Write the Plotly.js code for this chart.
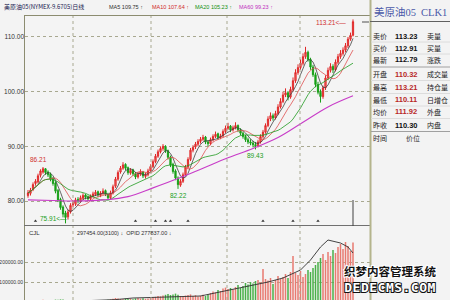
<!DOCTYPE html>
<html><head><meta charset="utf-8">
<script src="https://cdn.plot.ly/plotly-3.0.1.min.js"></script>
<style>html,body{margin:0;padding:0;background:#f3f3f3;}#chart{width:450px;height:300px;}</style>
</head><body><div id="chart"></div>
<script>
// ---- data ----
const openP = [81.0,81.4,82.1,83.2,83.5,84.7,85.3,85.9,85.3,84.9,
84.1,83.3,81.9,80.3,78.9,77.8,77.1,78.0,79.3,79.5,
80.3,80.0,80.5,81.1,80.8,80.4,80.9,81.2,81.7,81.0,
81.4,81.9,81.2,80.6,81.5,82.7,84.0,85.3,86.0,86.7,
86.1,85.1,85.7,85.0,84.4,84.9,85.3,84.5,84.8,85.5,
86.3,87.2,88.2,89.0,89.6,90.0,89.2,88.0,86.7,85.5,
84.2,82.9,83.6,84.8,86.2,87.6,89.3,89.9,90.4,90.9,
91.3,91.7,90.8,90.5,91.2,91.8,92.3,91.6,91.9,92.7,
93.3,93.7,93.0,93.4,93.8,93.0,92.4,91.8,91.2,90.8,
90.6,90.3,90.1,90.8,91.8,92.6,93.8,95.0,95.6,95.2,
96.0,97.2,98.2,99.4,99.8,99.0,100.4,102.0,103.5,104.4,
105.2,106.4,107.2,105.9,104.5,103.1,101.3,99.9,99.1,100.7,
102.5,103.9,104.6,104.0,105.4,106.4,107.0,107.6,108.4,109.6,
110.32];
const highP = [82.0,82.4,83.4,84.0,85.0,85.8,86.21,86.0,85.6,85.2,
84.4,83.6,82.2,80.6,79.2,78.2,78.4,79.6,80.1,80.6,
80.7,81.0,81.4,81.3,81.0,81.2,81.7,82.0,81.9,81.8,
82.3,82.1,81.5,81.9,83.0,84.4,85.6,86.4,87.1,86.9,
86.3,86.0,85.9,85.3,85.3,85.8,85.5,85.2,85.9,86.7,
87.6,88.6,89.4,90.0,90.4,90.2,89.4,88.3,87.0,85.8,
84.5,84.0,85.2,86.6,88.0,89.7,90.2,90.8,91.3,91.7,
92.1,91.9,91.1,91.6,92.2,92.7,92.5,92.3,93.1,93.8,
94.3,93.9,93.8,94.4,94.0,93.3,92.7,92.1,91.6,91.3,
91.0,90.8,91.2,92.2,93.0,94.2,95.5,96.2,96.0,96.5,
97.7,98.8,100.0,100.6,100.1,100.9,102.6,104.1,105.0,105.9,
107.0,108.2,107.5,106.2,104.9,103.5,101.8,100.4,101.1,103.0,
104.4,105.2,105.0,105.9,106.9,107.6,108.1,108.9,110.0,110.8,
113.21];
const lowP = [80.6,81.0,81.8,82.8,83.2,84.3,85.0,84.8,84.4,83.6,
82.8,81.4,79.8,78.4,77.0,75.91,76.6,77.7,78.9,79.1,
79.6,79.7,80.2,80.3,80.0,80.1,80.6,80.9,80.7,80.7,
81.1,80.9,80.2,80.3,81.2,82.4,83.7,85.0,85.7,85.6,
84.8,84.8,84.6,84.0,84.1,84.6,84.2,84.1,84.5,85.2,
86.0,86.9,87.9,88.7,89.2,88.8,87.6,86.2,85.0,83.8,
82.22,82.6,83.3,84.5,85.9,87.3,88.9,89.5,90.0,90.5,
91.0,90.4,90.0,90.2,90.9,91.5,91.2,91.3,91.6,92.4,
93.0,92.6,92.7,93.1,92.6,92.0,91.4,90.8,90.4,90.2,
89.8,89.43,89.8,90.5,91.4,92.3,93.5,94.6,94.7,94.9,
95.7,96.9,97.9,99.0,98.4,98.7,100.0,101.6,103.1,104.0,
104.8,106.0,105.5,104.0,102.7,100.8,99.5,98.0,98.7,100.3,
102.1,103.5,103.4,103.7,105.0,106.0,106.6,107.2,108.0,109.3,
110.11];
const closeP = [81.5,82.0,83.0,83.6,84.6,85.5,85.9,85.2,84.8,84.0,
83.2,81.8,80.2,78.8,77.6,77.0,78.0,79.2,79.6,80.2,
80.0,80.6,81.0,80.7,80.4,80.9,81.3,81.6,81.1,81.4,
81.8,81.2,80.6,81.5,82.6,84.0,85.2,86.0,86.6,86.0,
85.2,85.6,85.0,84.4,84.9,85.3,84.6,84.8,85.5,86.3,
87.2,88.2,89.0,89.6,90.0,89.2,88.0,86.6,85.4,84.2,
83.0,83.6,84.8,86.2,87.6,89.3,89.8,90.4,90.9,91.3,
91.6,90.8,90.5,91.2,91.8,92.2,91.6,91.9,92.7,93.3,
93.6,93.0,93.4,93.8,93.0,92.4,91.8,91.2,90.8,90.6,
90.3,90.1,90.8,91.8,92.6,93.8,95.0,95.6,95.2,96.0,
97.2,98.2,99.4,99.8,99.0,100.4,102.0,103.5,104.4,105.2,
106.4,107.2,105.9,104.5,103.1,101.3,99.9,99.1,100.7,102.5,
103.9,104.6,104.0,105.4,106.4,107.0,107.6,108.4,109.6,110.30,
112.79];
const ma60Idx = [0,10,20,30,40,50,60,70,80,90,100,110,120,130];
const ma60Val = [80.2,80.1,80.0,80.2,80.8,82.4,84.1,86.0,87.9,89.6,91.6,94.4,97.2,99.23];
const volume = [6000,7000,9000,8000,10000,9000,11000,8000,7000,9000,10000,12000,11000,13000,12000,10000,9000,8000,7000,8000,7000,8000,9000,7000,8000,9000,8000,10000,9000,8000,9000,10000,11000,
13000,16000,20000,18000,15000,14000,17000,15000,16000,14000,18000,20000,17000,19000,16000,18000,22000,
24000,26000,30000,28000,32000,36000,40000,35000,38000,42000,36000,30000,28000,32000,35000,38000,
30000,34000,28000,32000,36000,30000,38000,45000,52000,48000,60000,55000,68000,72000,65000,70000,
62000,75000,85000,70000,80000,95000,88000,100000,92000,105000,110000,98000,165000,115000,108000,
120000,90000,110000,130000,115000,125000,140000,120000,150000,230000,145000,135000,155000,125000,140000,160000,150000,
170000,185000,200000,220000,240000,210000,250000,230000,260000,245000,275000,290000,265000,300000,280000,255000,297454];
const oiIdx = [0,20,35,42,69,75,81,89,96,102,109,113,117,120,125,128,130];
const oiVal = [3000,5000,12000,20000,30000,45000,60000,80000,100000,120000,160000,210000,275000,310000,295000,275000,245000];
const eventIdx = [3,43,51,55,57,64,94,106,116];
const priceTicks = [80,90,100,110];
const volTicks = [100000,200000];
const maNames = ['MA5 109.75 ↑','MA10 107.64 ↑','MA20 105.23 ↑','MA60 99.23 ↑'];
const headerText = '美原油05(NYMEX-9.6705)日线';
const volHeader = ['CJL','297454.00(3100) ↓  OPID 277837.00 ↓'];
const rowLabels = ['卖价','买价','最新','开盘','最高','最低','均价','昨收','时间'];
const rowValues = ['113.23','112.91','112.79','110.32','113.21','110.11','111.92','110.30','价位'];
const rowRight = ['卖量','买量','涨跌','成交量','持仓量','日增仓','外盘','内盘',''];
const markLabels = [
  {i:6, v:86.21, t:'86.21', c:'#d03030'},
  {i:15, v:75.91, t:'75.91<—', c:'#20a020'},
  {i:60, v:82.22, t:'82.22', c:'#20a020'},
  {i:91, v:89.43, t:'89.43', c:'#20a020'},
  {i:130, v:113.21, t:'113.21<—', c:'#d03030'}
];

// ---- helpers ----
const W = 450, H = 300;
const X = p => p / W, Y = p => 1 - p / H;
const idx = closeP.map((_, i) => i);
function movingAvg(arr, n) {
  return arr.map((_, i) => { const s = Math.max(0, i - n + 1); let sum = 0; for (let k = s; k <= i; k++) sum += arr[k]; return sum / (i - s + 1); });
}
const UP = '#e02828', DN = '#18a018';
const sans = 'Liberation Sans, Arial, sans-serif';
const cjk = 'Noto Sans CJK SC, sans-serif';
const xr = [-1.2, 136.8];

const traces = [
  {type:'candlestick', x:idx, open:openP, high:highP, low:lowP, close:closeP, xaxis:'x', yaxis:'y',
   increasing:{line:{color:UP,width:1}, fillcolor:'#f07070'}, decreasing:{line:{color:DN,width:1}, fillcolor:DN},
   whiskerwidth:0, hoverinfo:'skip', showlegend:false},
  {type:'scatter', mode:'lines', x:idx, y:movingAvg(closeP,5), line:{color:'#404040',width:0.8}, hoverinfo:'skip', showlegend:false},
  {type:'scatter', mode:'lines', x:idx, y:movingAvg(closeP,10), line:{color:'#e05050',width:0.8}, hoverinfo:'skip', showlegend:false},
  {type:'scatter', mode:'lines', x:idx, y:movingAvg(closeP,20), line:{color:'#209a20',width:0.8}, hoverinfo:'skip', showlegend:false},
  {type:'scatter', mode:'lines', x:ma60Idx, y:ma60Val, line:{color:'#c83cc8',width:1.1, shape:'spline'}, hoverinfo:'skip', showlegend:false},
  {type:'scatter', mode:'markers', x:eventIdx, y:eventIdx.map(()=>76.35), marker:{symbol:'triangle-up', size:3, color:'#333'}, hoverinfo:'skip', showlegend:false},
  {type:'bar', x:idx, y:volume, xaxis:'x2', yaxis:'y2', width:0.6,
   marker:{color:idx.map(i => closeP[i] >= openP[i] ? '#e87a70' : '#48b048'), line:{width:0}}, hoverinfo:'skip', showlegend:false},
  {type:'scatter', mode:'lines', x:oiIdx, y:oiVal, xaxis:'x2', yaxis:'y2', line:{color:'#303030',width:0.9}, hoverinfo:'skip', showlegend:false}
];

const gridCol = '#a8a890';
const shapes = [];
[73,151,227,300].forEach(p => shapes.push({type:'line', xref:'paper', yref:'paper', x0:X(p), x1:X(p), y0:Y(15), y1:Y(300), line:{color:gridCol, width:1, dash:'dot'}}));
shapes.push({type:'line', xref:'paper', yref:'paper', x0:X(24.5), x1:X(24.5), y0:Y(15), y1:Y(300), line:{color:'#8c8c70', width:1}});
shapes.push({type:'line', xref:'paper', yref:'paper', x0:X(24), x1:X(370), y0:Y(15.5), y1:Y(15.5), line:{color:'#8c8c70', width:1}});
shapes.push({type:'line', xref:'paper', yref:'paper', x0:X(24), x1:X(370), y0:Y(225.5), y1:Y(225.5), line:{color:'#707070', width:1}});
shapes.push({type:'line', xref:'paper', yref:'paper', x0:X(370.5), x1:X(370.5), y0:Y(0), y1:Y(300), line:{color:'#b4b48c', width:2}});
shapes.push({type:'line', xref:'paper', yref:'paper', x0:X(370), x1:X(450), y0:Y(21.5), y1:Y(21.5), line:{color:'#606060', width:1}});
shapes.push({type:'line', xref:'paper', yref:'paper', x0:X(362), x1:X(369), y0:Y(22), y1:Y(22), line:{color:'#505050', width:1}});
shapes.push({type:'line', xref:'x', yref:'paper', x0:130, x1:130, y0:Y(200), y1:Y(226), line:{color:'#404040', width:1}});

const rowY = [36,48,60,74,87,100,112,125,138];
[42,54,80.5,93.5,106,118.5].forEach(p => shapes.push({type:'line', xref:'paper', yref:'paper', x0:X(371), x1:X(450), y0:Y(p), y1:Y(p), line:{color:'#dcdcdc', width:1}}));
[67,131.5].forEach(p => shapes.push({type:'line', xref:'paper', yref:'paper', x0:X(371), x1:X(450), y0:Y(p), y1:Y(p), line:{color:'#a0a0a0', width:1}}));

const ann = [];
const A = (px, py, text, opt) => ann.push(Object.assign({xref:'paper', yref:'paper', x:X(px), y:Y(py), text:text, showarrow:false, xanchor:'left', yanchor:'middle', font:{size:6, color:'#222', family:cjk}}, opt||{}));
A(2, 7, headerText, {font:{size:6, color:'#202050', family:cjk}});
const maX = [107,150,193,237], maC = ['#303030','#d02828','#109010','#c030c0'];
maNames.forEach((t,k) => A(maX[k], 7, t, {font:{size:5.5, color:maC[k], family:sans}}));
A(27, 233, volHeader[0], {font:{size:6, color:'#303030', family:sans}});
A(75, 233, volHeader[1], {font:{size:5.5, color:'#303030', family:sans}});
// right panel
A(372, 12, '美原油05', {font:{size:10.5, color:'#4a58a8', family:'Liberation Serif, Noto Sans CJK SC, serif'}});
A(449, 12, 'CLK1', {xanchor:'right', font:{size:10.5, color:'#4a58a8', family:'Liberation Serif, serif'}});
const valCol = ['#111','#111','#111','#b82828','#b82828','#b82828','#b82828','#111','#333'];
rowLabels.forEach((t,k) => {
  A(371, rowY[k], t, {font:{size:7, color:'#222', family:cjk}});
  A(k===8 ? 404 : 393, rowY[k], rowValues[k], {font:{size: k===8 ? 7 : 7.5, color:valCol[k], family: k===8 ? cjk : sans, weight: k===8 ? 400 : 700}});
  if (rowRight[k]) A(425, rowY[k], rowRight[k], {font:{size:7, color:'#222', family:cjk}});
});
// price marks
markLabels.forEach(m => {
  const o = {xref:'x', yref:'y', x:m.i, y:m.v, text:m.t, showarrow:false, font:{size:6.5, color:m.c, family:sans}};
  if (m.t.indexOf('<')>0) { o.xanchor='right'; o.xshift = m.i===130 ? -5 : 3; o.yshift = m.i===130 ? -3.5 : 5; o.yanchor='middle'; }
  else if (m.i===6) { o.xanchor='center'; o.xshift=-5; o.yanchor='bottom'; o.yshift=2; }
  else { o.xanchor='center'; o.yanchor='top'; o.yshift=-1; }
  ann.push(o);
});
// watermark
A(390, 270.5, '织梦内容管理系统', {xanchor:'center', font:{size:11.5, color:'#111', family:cjk, weight:700}});
A(390, 287, 'DEDECMS.COM', {xanchor:'center', font:{size:13, color:'#ffffff', family:'DejaVu Sans Mono, monospace', weight:700}});

const axBase = {zeroline:false, showline:false, ticks:'', fixedrange:true};
const layout = {
  width:W, height:H, margin:{l:0,r:0,t:0,b:0}, paper_bgcolor:'#f3f3f3', plot_bgcolor:'#f4f4f4', showlegend:false,
  xaxis:Object.assign({}, axBase, {domain:[X(25),X(370)], range:xr, showgrid:false, showticklabels:false, rangeslider:{visible:false}, anchor:'y'}),
  yaxis:Object.assign({}, axBase, {domain:[Y(225),Y(15)], range:[75.61,114.02], tickvals:priceTicks, tickformat:'.2f', showgrid:true, gridcolor:gridCol, griddash:'dot', gridwidth:1, tickfont:{size:6.5,color:'#333',family:sans}, anchor:'x'}),
  xaxis2:Object.assign({}, axBase, {domain:[X(25),X(370)], range:xr, showgrid:false, showticklabels:false, anchor:'y2'}),
  yaxis2:Object.assign({}, axBase, {domain:[0,Y(225)], range:[10000,385000], tickvals:volTicks, tickformat:'.2f', showgrid:true, gridcolor:gridCol, griddash:'dot', gridwidth:1, tickfont:{size:5,color:'#333',family:sans}, ticklabelstandoff:1, anchor:'x2'}),
  shapes:shapes, annotations:ann, bargap:0.4
};
Plotly.newPlot('chart', traces, layout, {staticPlot:true, displayModeBar:false}).then(() => {
  document.querySelectorAll('.annotation-text').forEach(t => {
    if (t.textContent === 'DEDECMS.COM') { t.style.stroke = '#111'; t.style.strokeWidth = '2px'; t.style.paintOrder = 'stroke'; t.style.letterSpacing = '0.5px'; }
    if (t.textContent === '织梦内容管理系统') { t.style.stroke = '#fff'; t.style.strokeWidth = '2px'; t.style.paintOrder = 'stroke'; }
  });
});
</script>
</body></html>
